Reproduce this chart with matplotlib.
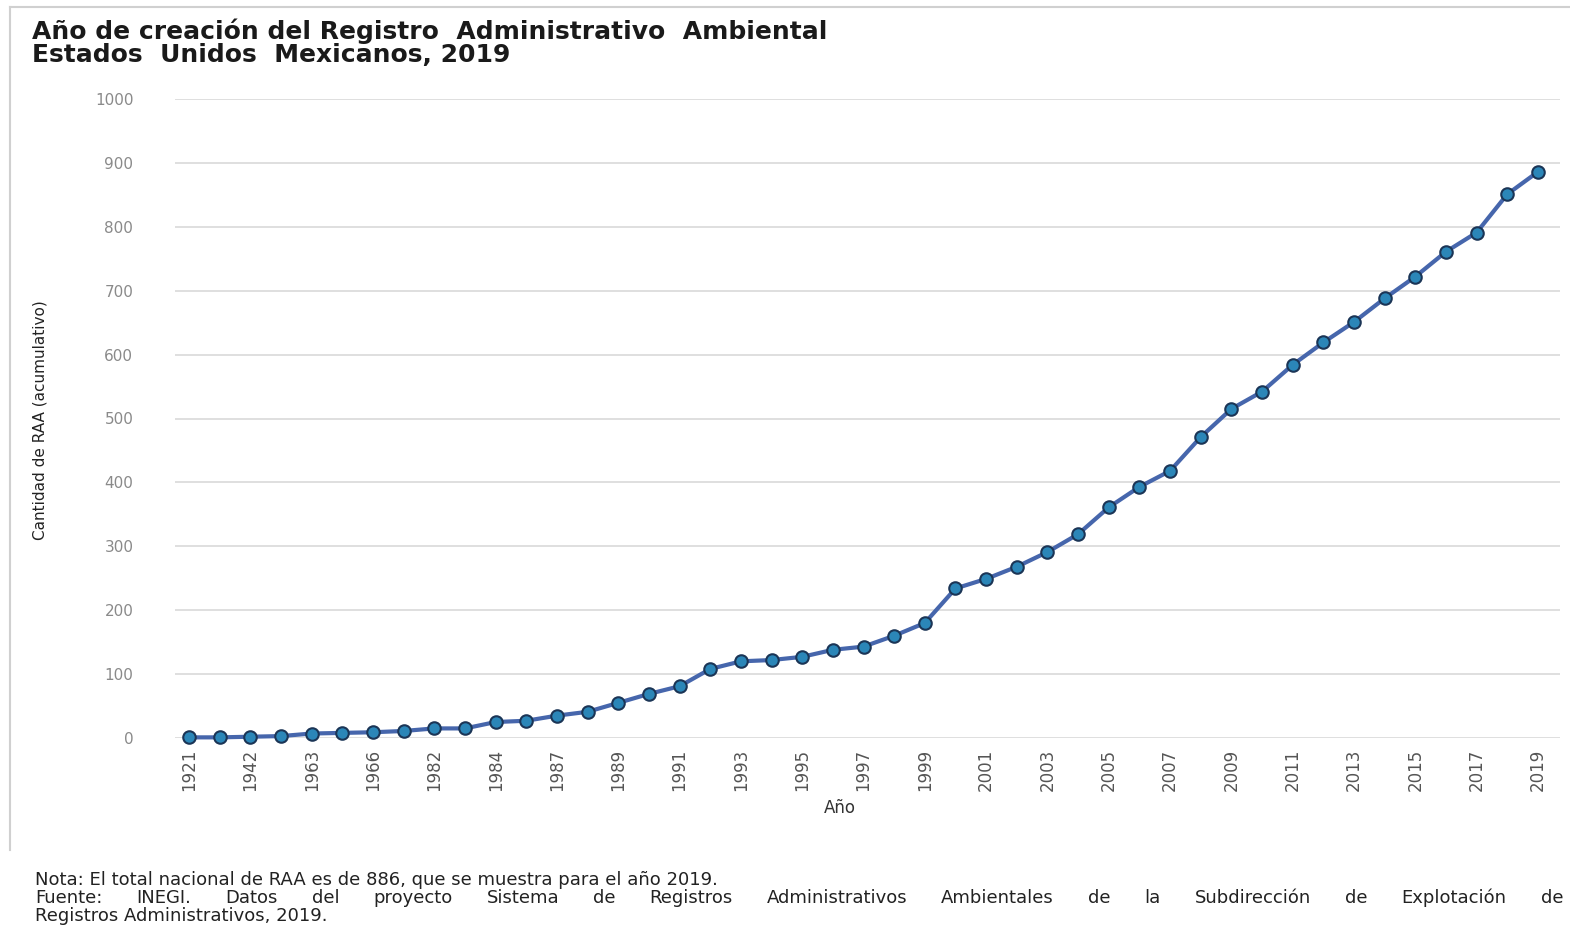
import numpy as np
import matplotlib.pyplot as plt
import matplotlib.lines as mlines

years = ["1921", "1936", "1942", "1958", "1963", "1965", "1966", "1975", "1982", "1983",
         "1984", "1986", "1987", "1988", "1989", "1990", "1991", "1992", "1993", "1994",
         "1995", "1996", "1997", "1998", "1999", "2000", "2001", "2002", "2003", "2004",
         "2005", "2006", "2007", "2008", "2009", "2010", "2011", "2012", "2013", "2014",
         "2015", "2016", "2017", "2018", "2019"]
raa = [1, 1, 2, 3, 7, 8, 9, 11, 15, 15,
       25, 27, 35, 41, 55, 69, 81, 108, 120, 122,
       127, 138, 143, 160, 180, 234, 249, 268, 291, 319,
       361, 393, 418, 471, 515, 542, 584, 619, 651, 688,
       722, 761, 791, 851, 886]
yticks = [0, 100, 200, 300, 400, 500, 600, 700, 800, 900, 1000]

title = "Año de creación del Registro  Administrativo  Ambiental\nEstados  Unidos  Mexicanos, 2019"
nota = "Nota: El total nacional de RAA es de 886, que se muestra para el año 2019."
fuente1 = ("Fuente: INEGI. Datos del proyecto Sistema de Registros Administrativos Ambientales "
           "de la Subdirección de Explotación de")
fuente2 = "Registros Administrativos, 2019."

fig = plt.figure(figsize=(15.7, 9.31), dpi=100)
ax = fig.add_axes([175/1570, 1-738/931, 1385/1570, 639/931])

x = np.arange(len(years))
ax.plot(x, raa, color="#4666ac", linewidth=3.0, marker="o", markersize=9,
        markerfacecolor="#2b86b8", markeredgecolor="#1b3556", markeredgewidth=1.5,
        clip_on=False, zorder=3)

ax.set_xlim(-0.46, 44.72)
ax.set_ylim(0, 1000)
ax.set_yticks(yticks)
ax.set_yticklabels([str(v) for v in yticks], fontsize=11, color="#8a8a8a",
                   family=["DejaVu Sans"])
ax.set_xticks(x[::2])
ax.set_xticklabels(years[::2], rotation=90, fontsize=12, color="#555555",
                   family=["Liberation Sans Narrow", "DejaVu Sans"])
ax.tick_params(axis="both", length=0)
ax.tick_params(axis="y", pad=30)
ax.tick_params(axis="x", pad=8)
ax.grid(axis="y", color="#d9d9d9", linewidth=1.2)
ax.set_axisbelow(True)
for s in ax.spines.values():
     s.set_visible(False)

ax.set_xlabel("Año", fontsize=12, color="#333333")
ax.xaxis.set_label_coords(0.48, -0.095)
fig.text(40/1570, 1-420/931, "Cantidad de RAA (acumulativo)", rotation=90, ha="center", va="center",
         fontsize=11, color="#222222", family=["Liberation Sans Narrow", "DejaVu Sans"])

fig.text(32/1570, 1-18/931, title, ha="left", va="top", fontsize=18, fontweight="bold",
         color="#1a1a1a", family=["DejaVu Sans"], linespacing=0.95)

foot = dict(fontsize=13, color="#222222", family=["DejaVu Sans"], va="baseline", ha="left")
fig.text(35/1570, 1-885/931, nota, **foot)
fig.text(35/1570, 1-921/931, fuente2, **foot)

# justify the long "Fuente" line across the width, word by word
renderer = fig.canvas.get_renderer()
words = fuente1.split(" ")
arts = [fig.text(0, 1-903/931, w, **foot) for w in words]
widths = [a.get_window_extent(renderer).width for a in arts]
left, right = 35, 1563
gap = (right - left - sum(widths)) / (len(words) - 1)
pos = left
for a, w in zip(arts, widths):
     a.set_x(pos/1570)
     pos += w + gap

# faint frame of the original screenshot
fig.add_artist(mlines.Line2D([10/1570, 1], [1-7/931, 1-7/931], color="#d0d0d0", linewidth=1.5))
fig.add_artist(mlines.Line2D([10/1570, 10/1570], [1-7/931, 1-850/931], color="#d0d0d0", linewidth=1.5))

plt.savefig("out.png", dpi=100)
